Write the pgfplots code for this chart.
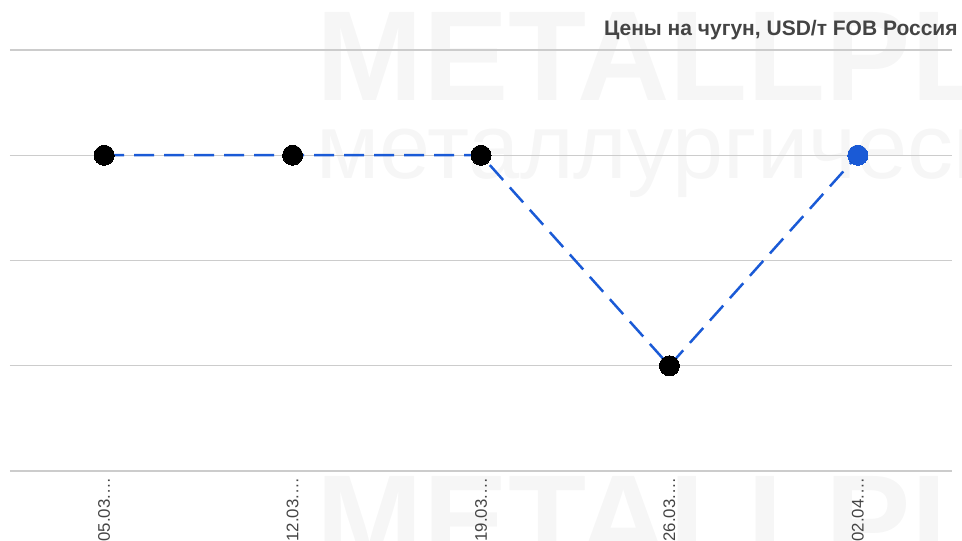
\documentclass[border=0pt]{standalone}
\usepackage{fontspec}
\setmainfont{Liberation Sans}
\usepackage{pgfplots}
\pgfplotsset{compat=1.18}
\definecolor{cGrid}{HTML}{CCCCCC}
\definecolor{cLine}{HTML}{1A5AD6}
\definecolor{cText}{HTML}{444444}
\definecolor{cWater}{HTML}{F6F6F6}

\begin{document}
\begin{tikzpicture}
\useasboundingbox (0,0) rectangle (481pt,270pt);
% faint watermark
\node[anchor=north west, inner sep=0pt, font=\fontsize{64}{64}\selectfont\bfseries, text=cWater] at (158pt,264pt) {METALLPLANT};
\node[anchor=north west, inner sep=0pt, font=\fontsize{46}{46}\selectfont, text=cWater] at (158pt,215pt) {металлургический};
\node[anchor=north west, inner sep=0pt, font=\fontsize{64}{64}\selectfont\bfseries, text=cWater] at (158pt,32pt) {METALLPLANT};
\begin{axis}[
  at={(5pt,34.5pt)}, anchor=south west,
  scale only axis, width=471pt, height=210.5pt,
  xmin=-0.5, xmax=4.5, ymin=520, ymax=540,
  axis line style={draw=none},
  xtick={0,1,2,3,4},
  xticklabels={05.03.…,12.03.…,19.03.…,26.03.…,02.04.…},
  x tick label style={rotate=90, anchor=east, font=\fontsize{8.4}{9}\selectfont, text=cText},
  major tick length=0pt,
  ytick={520,525,530,535,540}, yticklabels={},
  ymajorgrids, grid style={cGrid, line width=0.6pt},
  clip=false,
]
\addplot[cLine, line width=1.25pt, dash pattern=on 10pt off 5pt,
  mark=*, mark size=5pt, mark options={solid, fill=black, draw=black, line width=0pt}]
  coordinates {(0,535)(1,535)(2,535)(3,525)(4,535)};
\addplot[only marks, mark=*, mark size=5pt, mark options={fill=cLine, draw=cLine, line width=0pt}]
  coordinates {(4,535)};
\end{axis}
\node[anchor=base east, inner sep=0pt, font=\fontsize{10.5}{11}\selectfont\bfseries, text=cText] at (479pt,252pt) {Цены на чугун, USD/т FOB Россия};
\end{tikzpicture}
\end{document}
